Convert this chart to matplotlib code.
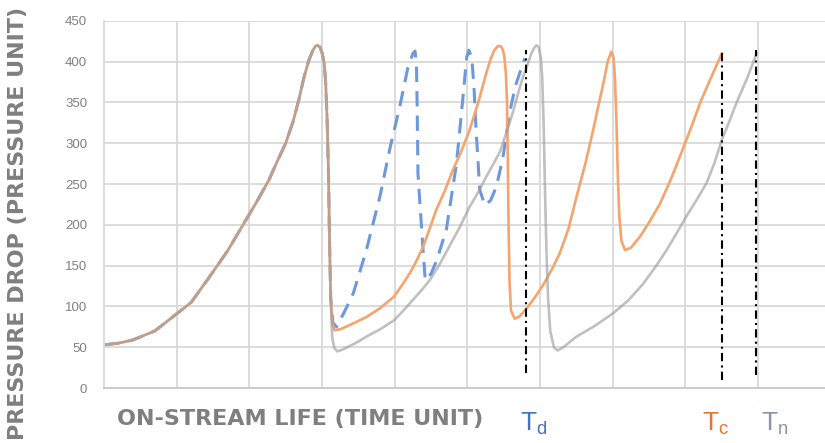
import matplotlib
matplotlib.use("Agg")
import matplotlib.pyplot as plt

plt.rcParams['font.family'] = ['Liberation Sans', 'DejaVu Sans']

# shared rise of all three runs (time unit, pressure unit)
rise_x = [0.0, 0.2, 0.4, 0.7, 1.0, 1.2, 1.45, 1.7, 1.9, 2.1, 2.27, 2.38, 2.5, 2.6, 2.68, 2.75, 2.82,
          2.87, 2.91, 2.94, 2.97, 3.00, 3.03, 3.05, 3.07, 3.09, 3.10, 3.11, 3.12]
rise_y = [53, 55, 59, 70, 91, 105, 136, 168, 198, 228, 255, 277, 300, 326, 353, 380, 402,
          413, 419, 420, 418, 411, 398, 375, 330, 260, 200, 150, 110]

# blue dashed run (ends at Td)
blue_x = [3.15, 3.20, 3.30, 3.43, 3.61, 3.80, 3.93, 4.07, 4.18, 4.25, 4.28, 4.30, 4.31, 4.32, 4.35,
          4.39, 4.42, 4.50, 4.58, 4.71, 4.85, 4.94, 4.99, 5.02, 5.06, 5.09, 5.12, 5.17, 5.24, 5.32,
          5.40, 5.49, 5.58, 5.66, 5.72, 5.79]
blue_y = [80, 75, 92, 116, 169, 236, 292, 345, 392, 410, 413, 395, 340, 263, 222,
          170, 132, 140, 157, 194, 275, 357, 405, 414, 405, 370, 316, 243, 224, 230,
          247, 283, 337, 370, 386, 404]

# orange run (ends at Tc)
orange_x = [3.14, 3.17, 3.25, 3.40, 3.61, 3.80, 3.99, 4.10, 4.21, 4.30, 4.39, 4.48, 4.57, 4.69, 4.80,
            4.92, 5.03, 5.15, 5.26, 5.32, 5.37, 5.42, 5.46, 5.49, 5.51, 5.53, 5.545, 5.555, 5.565,
            5.58, 5.60, 5.65, 5.72, 5.80, 5.92, 6.04, 6.16, 6.27, 6.39, 6.50, 6.62, 6.73, 6.80, 6.87,
            6.93, 6.98, 7.01, 7.03, 7.05, 7.07, 7.09, 7.12, 7.17, 7.25, 7.37, 7.50, 7.65, 7.80, 7.92,
            8.06, 8.20, 8.35, 8.50]
orange_y = [80, 71, 72, 78, 87, 98, 112, 126, 141, 156, 173, 195, 218, 242, 267,
            291, 316, 350, 386, 403, 414, 419, 419, 414, 405, 385, 350, 290, 210,
            130, 95, 85, 88, 96, 110, 126, 145, 165, 195, 234, 274, 316, 345, 373,
            400, 412, 405, 380, 330, 260, 210, 180, 169, 172, 185, 203, 226, 256, 283,
            315, 349, 380, 410]

# gray run (ends at Tn)
gray_x = [3.14, 3.17, 3.21, 3.28, 3.37, 3.50, 3.61, 3.80, 3.99, 4.12, 4.25, 4.37, 4.48, 4.62, 4.76,
          4.90, 5.03, 5.15, 5.26, 5.36, 5.45, 5.57, 5.64, 5.70, 5.76, 5.81, 5.88, 5.92, 5.95, 5.98,
          6.01, 6.03, 6.05, 6.07, 6.09, 6.11, 6.14, 6.19, 6.24, 6.32, 6.50, 6.75, 7.01, 7.22, 7.42,
          7.60, 7.74, 7.88, 8.01, 8.15, 8.29, 8.40, 8.50, 8.60, 8.70, 8.85, 8.98]
gray_y = [62, 49, 45, 47, 51, 57, 63, 72, 83, 95, 108, 120, 132, 152, 175,
          198, 222, 240, 259, 275, 290, 322, 342, 362, 380, 392, 410, 417, 420, 418,
          405, 380, 320, 234, 160, 110, 70, 50, 46, 50, 63, 76, 92, 108, 128,
          150, 169, 190, 210, 230, 251, 276, 304, 326, 349, 380, 410]

# end-of-run markers
t_names = ['$\\mathregular{T_d}$', '$\\mathregular{T_c}$', '$\\mathregular{T_n}$']
t_x = [5.80, 8.50, 8.97]
t_bottom = [18, 10, 16]
t_top = [414, 412, 414]

y_ticks = [0, 50, 100, 150, 200, 250, 300, 350, 400, 450]
x_grid = [1, 2, 3, 4, 5, 6, 7, 8, 9]

fig = plt.figure(figsize=(8.25, 4.43), dpi=100)
ax = fig.add_axes([0.126, 0.124, 0.874, 0.829])

grid_c = '#D9D9D9'
ax.set_xlim(0, 9.92)
ax.set_ylim(0, 450)
ax.set_yticks(y_ticks)
ax.set_xticks(x_grid)
ax.set_xticklabels([])
ax.grid(True, color=grid_c, linewidth=1.3)
ax.set_axisbelow(True)
ax.tick_params(length=0, pad=12, labelsize=9.5, labelcolor='#808080')
for s in ['top', 'right']:
    ax.spines[s].set_visible(False)
ax.spines['left'].set_color(grid_c)
ax.spines['left'].set_linewidth(1.3)
ax.spines['bottom'].set_color('#C8C8C8')
ax.spines['bottom'].set_linewidth(1.3)

bx = rise_x + blue_x
by = rise_y + blue_y
ox = rise_x + orange_x
oy = rise_y + orange_y
gx = rise_x + gray_x
gy = rise_y + gray_y

ax.plot(bx, by, color='#6E98DC', linewidth=2.2, dashes=(5, 3), solid_joinstyle='round')
ax.plot(ox, oy, color='#F4A46C', linewidth=1.9, solid_joinstyle='round')
ax.plot(gx, gy, color='#9E9E9E', alpha=0.65, linewidth=1.9, solid_joinstyle='round')

ax.vlines(t_x, t_bottom, t_top, colors='black', linewidth=1.5,
          linestyles=[(0, (4, 2, 1, 2))])

fig.text(0.022, 0.985, 'PRESSURE DROP (PRESSURE UNIT)', rotation=90, ha='center', va='top',
         fontsize=16, fontweight='bold', color='#7F7F7F', family='DejaVu Sans')
fig.text(117 / 825, 1 - 419 / 443, 'ON-STREAM LIFE (TIME UNIT)', ha='left', va='center',
         fontsize=16, fontweight='bold', color='#7F7F7F', family='DejaVu Sans')

t_colors = ['#4472C4', '#E8752F', '#8A96A8']
t_px = [520, 702, 761]
for name, px, c in zip(t_names, t_px, t_colors):
    fig.text(px / 825, 1 - 424 / 443, name, ha='left', va='center', fontsize=19, color=c)

fig.savefig('out.png', dpi=100)
